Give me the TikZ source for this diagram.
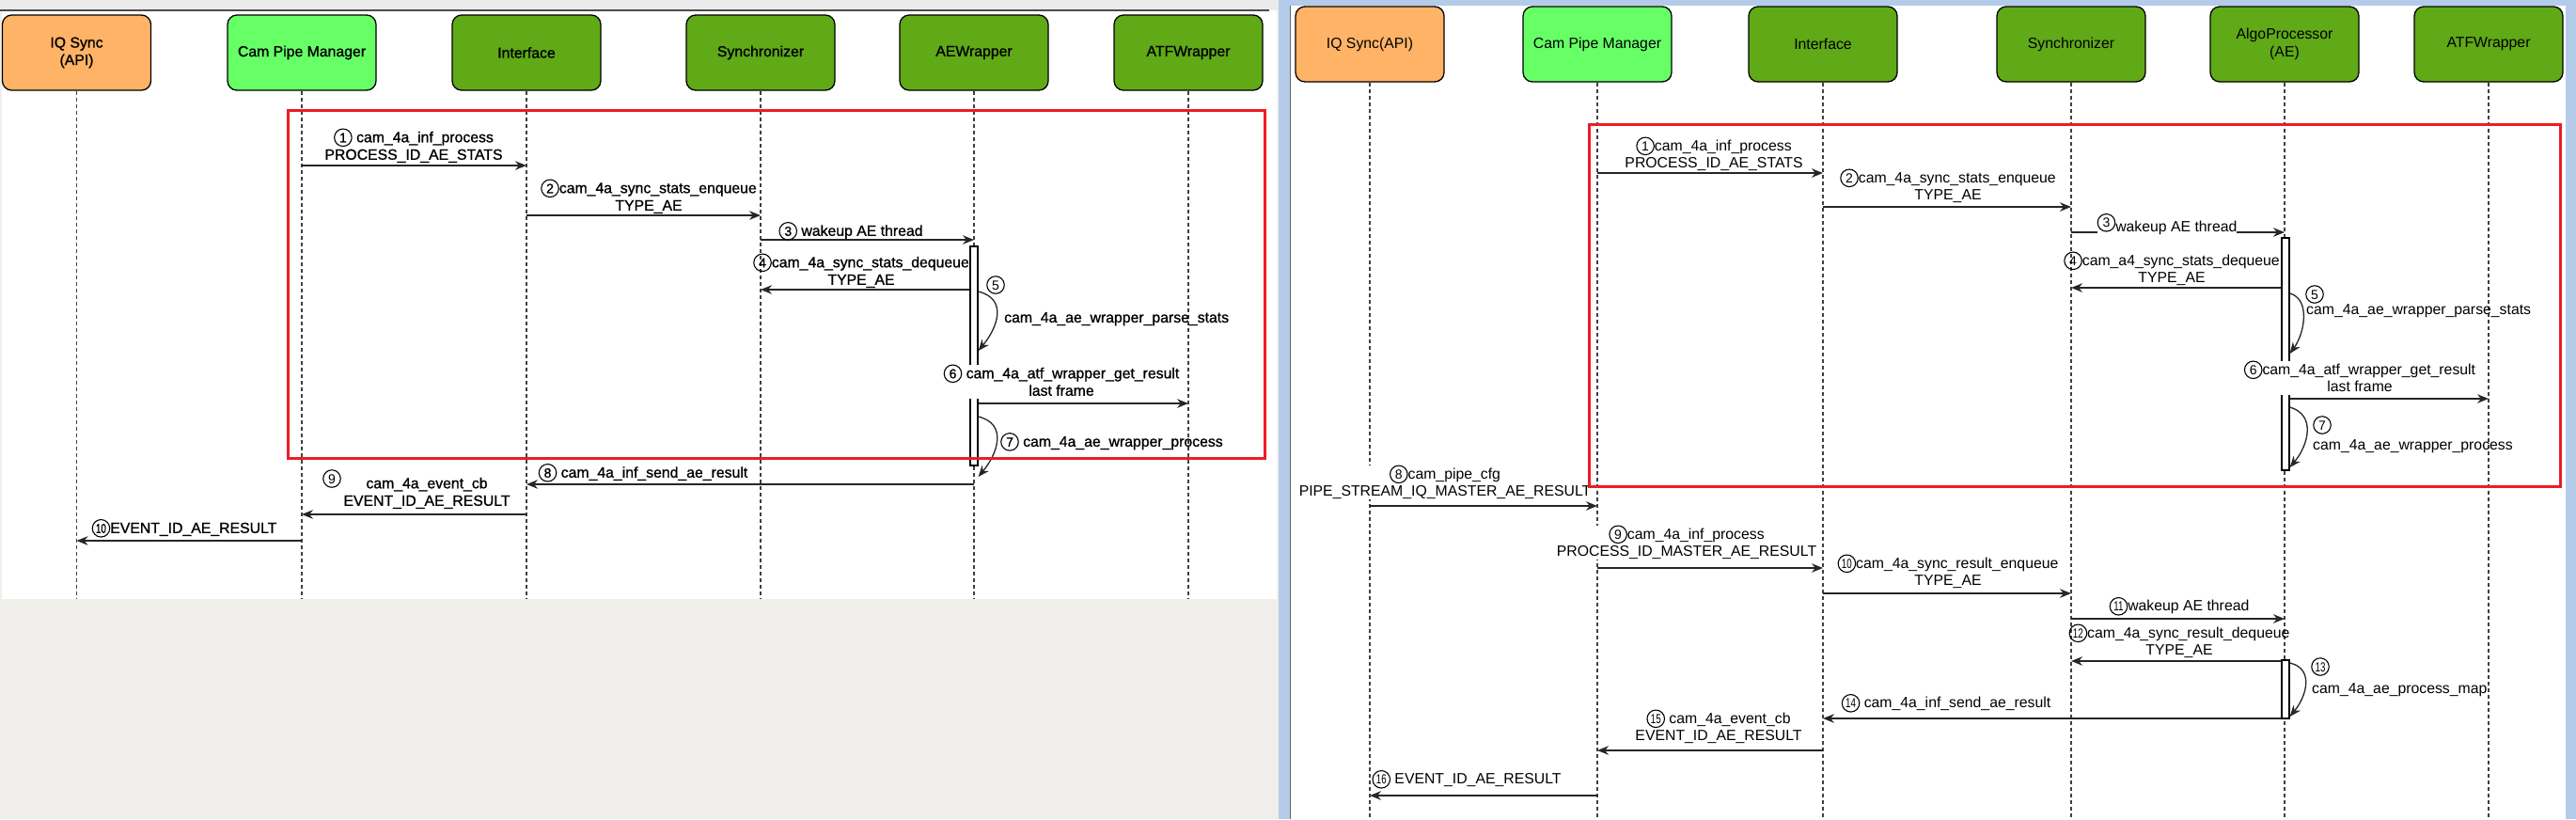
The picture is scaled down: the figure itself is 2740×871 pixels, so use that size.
\documentclass[tikz,border=0pt]{standalone}
\usepackage{graphicx}
\usepackage{fontspec}
\setmainfont{Liberation Sans}
\newfontfamily\heavyfont[FakeBold = 1]{Liberation Sans}
\usetikzlibrary{arrows.meta}

\definecolor{iqorange}{HTML}{FFB366}
\definecolor{pipegreen}{HTML}{66FF66}
\definecolor{modgreen}{HTML}{60A917}
\definecolor{framered}{HTML}{ED1C24}
\definecolor{wingray}{HTML}{F0EFEB}
\definecolor{winblue}{HTML}{B4CCEA}

\tikzset{cnum/.style = {circle, draw, line width = 1.1pt, inner sep = 0pt, minimum size = 18.5pt,
    anchor = center, text height = 10pt, text depth = 0pt, fill = none,
    font = \fontsize{14}{14}\selectfont}}

\newcommand{\circled}[1]{\tikz[baseline = (cn.base)] \node (cn) [cnum] {#1};}
\newcommand{\twodig}[1]{\scalebox{0.7}[1]{#1}}

\begin{document}
\begin{tikzpicture}[x = 1pt, y = -1pt,
    box/.style = {draw, line width = 1.3pt, rounded corners = 10pt, minimum width = 158pt,
        minimum height = 80pt, align = center, inner sep = 0pt},
    lifeline/.style = {line width = 1.3pt, black!75, dash pattern = on 4pt off 3pt},
    msg/.style = {line width = 1.6pt, black!85, -{Stealth[length = 12pt, width = 9.5pt]}},
    call/.style = {msg, line width = 1.3pt},
    lbl/.style = {inner sep = 0pt, text depth = 3pt, align = center, anchor = south},
    actbar/.style = {draw, line width = 1.2pt, fill = white, minimum width = 8pt, inner sep = 0pt},
    redframe/.style = {draw = framered, line width = 3pt}]

    \useasboundingbox (0, 0) rectangle (2740, 871);

    % window background
    \fill [wingray] (0, 0) rectangle (2740, 871);
    \fill [black!8] (0, 0) rectangle (1360, 10);
    \fill [white] (2, 11) rectangle (1358, 637);
    \draw [black!70, line width = 1.5pt] (0, 11) -- (1350, 11);
    \fill [winblue] (1360, 0) rectangle (2740, 871);
    \fill [white] (1373, 6) rectangle (2729, 871);
    \draw [black!60, line width = 1pt] (1372, 6) -- (1372, 871);

    % left diagram
    \begin{scope}[font = \heavyfont\fontsize{15.8}{18.5}\selectfont]

        \node (iqL) at (81.5, 56) [box, fill = iqorange] {IQ Sync\\(API)};
        \node (cpmL) at (321, 56) [box, fill = pipegreen] {Cam Pipe Manager};
        \node (infL) at (560, 56) [box, fill = modgreen] {Interface};
        \node (synL) at (809, 56) [box, fill = modgreen] {Synchronizer};
        \node (aewL) at (1036, 56) [box, fill = modgreen] {AEWrapper};
        \node (atfL) at (1264, 56) [box, fill = modgreen] {ATFWrapper};

        \foreach \n in {iqL, cpmL, infL, synL, aewL, atfL}
            \draw [lifeline] (\n.south) -- (\n |- 0, 636);

        \node (barL) at (1036, 378.5) [actbar, minimum height = 233pt] {};

        \draw [msg] (cpmL |- 0, 176) -- (infL |- 0, 176);
        \node (t1L) at (440, 173) [lbl] {\circled{1} cam\_4a\_inf\_process\\PROCESS\_ID\_AE\_STATS};

        \draw [msg] (infL |- 0, 229) -- (synL |- 0, 229);
        \node (t2L) at (690, 227) [lbl] {\circled{2}cam\_4a\_sync\_stats\_enqueue\\TYPE\_AE};

        \draw [msg] (synL |- 0, 255) -- (aewL |- 0, 255);
        \node (t3L) at (905, 254) [lbl] {\circled{3} wakeup AE thread};

        \draw [msg] (barL.west |- 0, 308) -- (synL |- 0, 308);
        \node (t4L) at (916, 306) [lbl] {\circled{4}cam\_4a\_sync\_stats\_dequeue\\TYPE\_AE};

        \draw [call] (barL.east |- 0, 310) .. controls +(32, 8) and +(20, -24) .. (barL.east |- 0, 373);
        \node (c5L) at (1059, 303) [cnum] {5};
        \node (t5L) at (1068, 339) [lbl, anchor = west] {cam\_4a\_ae\_wrapper\_parse\_stats};

        \draw [msg] (barL.east |- 0, 429) -- (atfL |- 0, 429);
        \node (t6L) at (1129, 424) [lbl, fill = white, inner xsep = 2pt] {\circled{6} cam\_4a\_atf\_wrapper\_get\_result\\last frame};

        \draw [call] (barL.east |- 0, 443) .. controls +(32, 8) and +(20, -24) .. (barL.east |- 0, 507);
        \node (t7L) at (1064, 469) [lbl, anchor = west] {\circled{7} cam\_4a\_ae\_wrapper\_process};

        \draw [msg] (aewL |- 0, 515) -- (infL |- 0, 515);
        \node (t8L) at (684, 511) [lbl] {\circled{8} cam\_4a\_inf\_send\_ae\_result};

        \draw [msg] (infL |- 0, 547) -- (cpmL |- 0, 547);
        \node (c9L) at (353, 509) [cnum] {9};
        \node (t9L) at (454, 541) [lbl] {cam\_4a\_event\_cb\\EVENT\_ID\_AE\_RESULT};

        \draw [msg] (cpmL |- 0, 575) -- (iqL |- 0, 575);
        \node (t10L) at (196, 570) [lbl] {\circled{\twodig{10}}EVENT\_ID\_AE\_RESULT};

        \draw [redframe] (306, 117) rectangle (1345, 487);

    \end{scope}

    % right diagram
    \begin{scope}[font = \fontsize{15.8}{18.5}\selectfont]

        \node (iqR) at (1457, 47) [box, fill = iqorange] {IQ Sync(API)};
        \node (cpmR) at (1699, 47) [box, fill = pipegreen] {Cam Pipe Manager};
        \node (infR) at (1939, 47) [box, fill = modgreen] {Interface};
        \node (synR) at (2203, 47) [box, fill = modgreen] {Synchronizer};
        \node (algR) at (2430, 47) [box, fill = modgreen] {AlgoProcessor\\(AE)};
        \node (atfR) at (2647, 47) [box, fill = modgreen] {ATFWrapper};

        \foreach \n in {iqR, cpmR, infR, synR, algR, atfR}
            \draw [lifeline] (\n.south) -- (\n |- 0, 871);

        \node (barR1) at (2431, 376.5) [actbar, minimum height = 247pt] {};
        \node (barR2) at (2431, 733) [actbar, minimum height = 62pt] {};

        \draw [msg] (cpmR |- 0, 184) -- (infR |- 0, 184);
        \node (t1R) at (1823, 182) [lbl] {\circled{1}cam\_4a\_inf\_process\\PROCESS\_ID\_AE\_STATS};

        \draw [msg] (infR |- 0, 220) -- (synR |- 0, 220);
        \node (t2R) at (2072, 216) [lbl] {\circled{2}cam\_4a\_sync\_stats\_enqueue\\TYPE\_AE};

        \draw [msg] (synR |- 0, 247) -- (algR |- 0, 247);
        \node (t3R) at (2305, 250) [lbl, fill = white] {\raisebox{5pt}{\circled{3}}wakeup AE thread};

        \draw [msg] (barR1.west |- 0, 306) -- (synR |- 0, 306);
        \node (t4R) at (2310, 304) [lbl] {\circled{4}cam\_a4\_sync\_stats\_dequeue\\TYPE\_AE};

        \draw [call] (barR1.east |- 0, 312) .. controls +(22, 6) and +(16, -22) .. (barR1.east |- 0, 376);
        \node (c5R) at (2462, 313) [cnum] {5};
        \node (t5R) at (2453, 331) [lbl, anchor = west] {cam\_4a\_ae\_wrapper\_parse\_stats};

        \draw [msg] (barR1.east |- 0, 424) -- (atfR |- 0, 424);
        \node (t6R) at (2510, 420) [lbl, fill = white, inner xsep = 2pt] {\circled{6}cam\_4a\_atf\_wrapper\_get\_result\\last frame};

        \draw [call] (barR1.east |- 0, 433) .. controls +(28, 8) and +(20, -24) .. (barR1.east |- 0, 497);
        \node (c7R) at (2470, 452) [cnum] {7};
        \node (t7R) at (2460, 475) [lbl, anchor = west] {cam\_4a\_ae\_wrapper\_process};

        \draw [msg] (iqR |- 0, 538) -- (cpmR |- 0, 538);
        \node (t8R) at (1537, 531) [lbl, fill = white] {\circled{8}cam\_pipe\_cfg\\PIPE\_STREAM\_IQ\_MASTER\_AE\_RESULT};

        \draw [msg] (cpmR |- 0, 604) -- (infR |- 0, 604);
        \node (t9R) at (1794, 595) [lbl, fill = white] {\circled{9}cam\_4a\_inf\_process\\PROCESS\_ID\_MASTER\_AE\_RESULT};

        \draw [msg] (infR |- 0, 631) -- (synR |- 0, 631);
        \node (t10R) at (2072, 626) [lbl] {\circled{\twodig{10}}cam\_4a\_sync\_result\_enqueue\\TYPE\_AE};

        \draw [msg] (synR |- 0, 658) -- (algR |- 0, 658);
        \node (t11R) at (2318, 653) [lbl] {\circled{\twodig{11}}wakeup AE thread};

        \draw [msg] (barR2.west |- 0, 703) -- (synR |- 0, 703);
        \node (t12R) at (2318, 700) [lbl] {\circled{\twodig{12}}cam\_4a\_sync\_result\_dequeue\\TYPE\_AE};

        \draw [call] (barR2.east |- 0, 705) .. controls +(26, 6) and +(18, -22) .. (barR2.east |- 0, 762);
        \node (c13R) at (2468, 709) [cnum] {\twodig{13}};
        \node (t13R) at (2459, 734) [lbl, anchor = west] {cam\_4a\_ae\_process\_map};

        \draw [msg] (barR2.west |- 0, 764) -- (infR |- 0, 764);
        \node (t14R) at (2070, 756) [lbl] {\circled{\twodig{14}} cam\_4a\_inf\_send\_ae\_result};

        \draw [msg] (infR |- 0, 798) -- (cpmR |- 0, 798);
        \node (t15R) at (1828, 791) [lbl] {\circled{\twodig{15}} cam\_4a\_event\_cb\\EVENT\_ID\_AE\_RESULT};

        \draw [msg] (cpmR |- 0, 846) -- (iqR |- 0, 846);
        \node (t16R) at (1560, 837) [lbl] {\circled{\twodig{16}} EVENT\_ID\_AE\_RESULT};

        \draw [redframe] (1690, 132) rectangle (2723, 517);

    \end{scope}

\end{tikzpicture}
\end{document}
